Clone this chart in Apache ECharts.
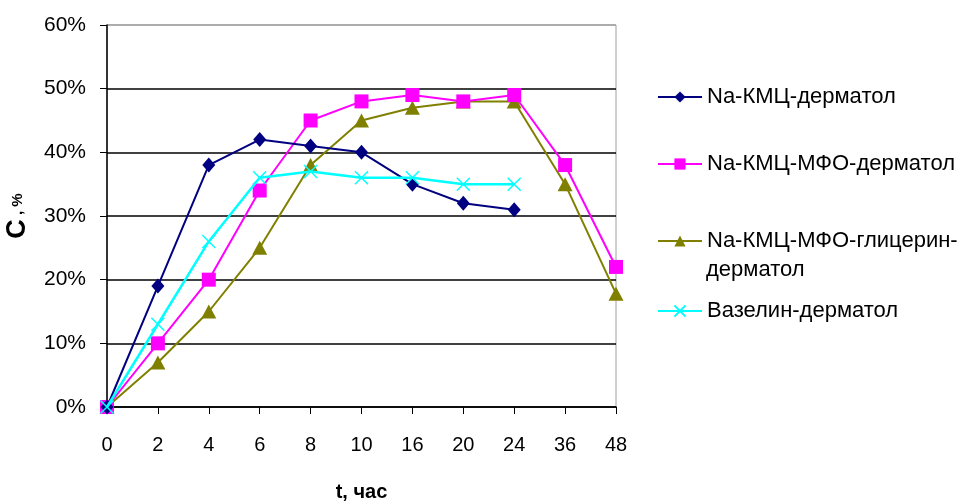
<!DOCTYPE html>
<html><head><meta charset="utf-8">
<script src="https://cdn.jsdelivr.net/npm/echarts@6/dist/echarts.min.js"></script>
<style>html,body{margin:0;padding:0;background:#fff}#c{width:961px;height:502px}</style>
</head><body><div id="c"></div>
<script>
const categories = ['0','2','4','6','8','10','16','20','24','36','48'];
const seriesNames = ['Na-КМЦ-дерматол','Na-КМЦ-МФО-дерматол','Na-КМЦ-МФО-глицерин-','Вазелин-дерматол'];
const legendSecondLine = 'дерматол';
const s1 = [0, 19, 38, 42, 41, 40, 35, 32, 31, null, null];
const s2 = [0, 10, 20, 34, 45, 48, 49, 48, 49, 38, 22];
const s3 = [0, 7, 15, 25, 38, 45, 47, 48, 48, 35, 17.8];
const s4 = [0, 13, 26, 36, 37, 36, 36, 35, 35, null, null];
const yTicks = [0, 10, 20, 30, 40, 50, 60];

const font = 'Liberation Sans, Arial, sans-serif';
const colors = ['#000080','#FF00FF','#808000','#00FFFF'];
const symbols = ['diamond','rect','triangle','path://M0,0L10,10M10,0L0,10'];
const sizes = [[13,15],[14,14],[15,14],[13,13]];
const datas = [s1,s2,s3,s4];

const chart = echarts.init(document.getElementById('c'));
const legendTops = [84, 151, 228, 298];
chart.setOption({
  animation:false,
  textStyle:{fontFamily:font},
  grid:{left:107, right:345, top:25, bottom:95, show:true, borderColor:'#a0a0a0', borderWidth:1,
        containLabel:false, outerBoundsMode:'none'},
  legend: seriesNames.map((n,i)=>({
    data:[n], left:657, top:legendTops[i], orient:'vertical', padding:0,
    itemWidth:44, itemHeight:14, itemGap:0,
    textStyle:{fontFamily:font, fontSize:22, color:'#000', lineHeight:26}
  })),
  graphic:[{type:'text', left:706, top:259, style:{text:legendSecondLine, fontFamily:font, fontSize:22, fill:'#000'}}],
  xAxis:{
    type:'category', data:categories, boundaryGap:false,
    name:'t, час', nameLocation:'middle', nameGap:75,
    nameTextStyle:{fontFamily:font, fontSize:20, fontWeight:'bold', color:'#000'},
    axisLine:{lineStyle:{color:'#000', width:1.5}},
    axisTick:{show:true, inside:false, length:7, alignWithLabel:true, lineStyle:{color:'#000'}},
    axisLabel:{fontFamily:font, fontSize:20, color:'#000', margin:28},
    splitLine:{show:false}
  },
  yAxis:{
    type:'value', min:0, max:60, interval:10,
    name:'{c|С}{s| , %}', nameLocation:'middle', nameGap:76, nameRotate:90,
    nameTextStyle:{fontFamily:font, color:'#000', rich:{
      c:{fontFamily:font, fontSize:27, fontWeight:'bold', color:'#000'},
      s:{fontFamily:font, fontSize:15, fontWeight:'bold', color:'#000'}
    }},
    axisLine:{show:true, lineStyle:{color:'#000', width:1.5}},
    axisTick:{show:true, length:7, lineStyle:{color:'#000'}},
    axisLabel:{fontFamily:font, fontSize:21, color:'#000', margin:21, formatter: v => yTicks.includes(v) ? v + '%' : ''},
    splitLine:{show:true, lineStyle:{color:['#000','#000','#000','#000','#000','#000','#a0a0a0'], width:1.5}}
  },
  series: seriesNames.map((n,i)=>({
    name:n, type:'line', data:datas[i], symbol:symbols[i], symbolSize:sizes[i],
    connectNulls:false,
    lineStyle:{color:colors[i], width: i===3 ? 2.5 : 2},
    itemStyle:{color: i===3 ? 'rgba(0,0,0,0)' : colors[i], borderColor:colors[i], borderWidth: i===3 ? 1.5 : 0},
    z: [4,3,2,5][i]
  }))
});
</script></body></html>
